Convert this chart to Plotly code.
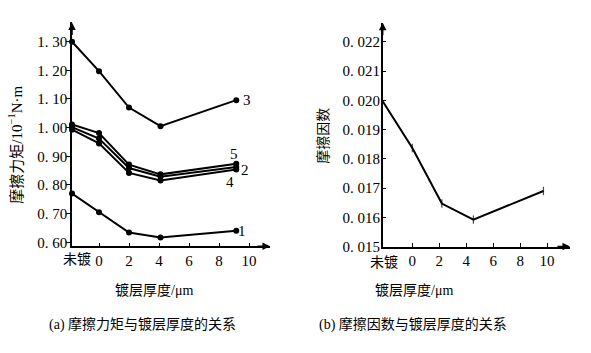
import plotly.graph_objects as go

# ---------------- data ----------------
x_a = [-1.8, 0, 2, 4.1, 9.15]          # 未镀, 0, 2, 4, ~9 μm
s1 = [0.770, 0.705, 0.634, 0.617, 0.640]
s2 = [1.002, 0.962, 0.859, 0.829, 0.863]
s3 = [1.300, 1.197, 1.070, 1.005, 1.096]
s4 = [0.993, 0.945, 0.842, 0.816, 0.854]
s5 = [1.011, 0.981, 0.871, 0.837, 0.874]
series_names = ["1", "2", "3", "4", "5"]

x_b = [-2.2, 0, 2.19, 4.53, 9.73]
mu = [0.01997, 0.01837, 0.01647, 0.01592, 0.0169]

xticks = [0, 2, 4, 6, 8, 10]
xtick_text = ["0", "2", "4", "6", "8", "10"]
untreated_label = "未镀"
ytick_a = [0.60, 0.70, 0.80, 0.90, 1.00, 1.10, 1.20, 1.30]
ytick_a_text = ["0. 60", "0. 70", "0. 80", "0. 90", "1. 00", "1. 10", "1. 20", "1. 30"]
ytick_b = [0.015, 0.016, 0.017, 0.018, 0.019, 0.020, 0.021, 0.022]
ytick_b_text = ["0. 015", "0. 016", "0. 017", "0. 018", "0. 019", "0. 020", "0. 021", "0. 022"]

ytitle_a = "摩擦力矩/10<sup>−1</sup>N·m"
ytitle_b = "摩擦因数"
xtitle = "镀层厚度/μm"
caption_a = "(a) 摩擦力矩与镀层厚度的关系"
caption_b = "(b) 摩擦因数与镀层厚度的关系"

# ---------------- styling ----------------
FONT = "Liberation Serif, Noto Sans CJK SC, serif"
CJK = "Noto Sans CJK SC, Liberation Serif, sans-serif"
W, H = 591, 353
XRA = [-1.8, 11.4]
YRA = [0.586, 1.367]
XRB = [-2.2, 11.7]
YRB = [0.015, 0.02265]

fig = go.Figure()
for name, ys in zip(series_names, [s1, s2, s3, s4, s5]):
    fig.add_trace(go.Scatter(x=x_a, y=ys, mode="lines+markers", name=name,
                             line=dict(color="black", width=2),
                             marker=dict(color="black", size=6, symbol="circle"),
                             cliponaxis=False, showlegend=False,
                             xaxis="x", yaxis="y"))

fig.add_trace(go.Scatter(x=x_b, y=mu, mode="lines+markers",
                         line=dict(color="black", width=2),
                         marker=dict(color="black", size=[0, 6, 6, 6, 6], symbol="line-ns",
                                     line=dict(color="black", width=1.2)),
                         cliponaxis=False, showlegend=False,
                         xaxis="x2", yaxis="y2"))

axis_common = dict(showline=True, linecolor="black", linewidth=1.5, showgrid=False,
                   zeroline=False, tickcolor="black", ticklen=4, tickwidth=1.2,
                   tickfont=dict(family=FONT, size=15, color="black"))

fig.update_layout(
    width=W, height=H, margin=dict(l=0, r=0, t=0, b=0),
    paper_bgcolor="white", plot_bgcolor="white",
    xaxis=dict(domain=[72 / W, 270 / W], range=XRA, tickvals=xticks, ticktext=xtick_text,
               ticks="inside", anchor="y", **axis_common),
    yaxis=dict(domain=[(H - 252) / H, (H - 23) / H], range=YRA, tickvals=ytick_a,
               ticktext=ytick_a_text, ticks="outside", anchor="x", ticklabelstandoff=-4,
               **axis_common),
    xaxis2=dict(domain=[382.7 / W, 570 / W], range=XRB, tickvals=xticks, ticktext=xtick_text,
                ticks="inside", anchor="y2", **axis_common),
    yaxis2=dict(domain=[(H - 252.3) / H, (H - 23.3) / H], range=YRB, tickvals=ytick_b,
                ticktext=ytick_b_text, ticks="inside", anchor="x2", ticklabelstandoff=-2,
                **axis_common),
)

ann = []
# axis arrows
for xr, yr, xa, ya in [("x", "y", XRA, YRA), ("x2", "y2", XRB, YRB)]:
    ann.append(dict(x=xa[1], y=ya[0], xref=xr, yref=yr, ax=-14, ay=0, showarrow=True,
                    arrowhead=2, arrowsize=1, arrowwidth=1.5, arrowcolor="black", text=""))
    ann.append(dict(x=xa[0], y=ya[1], xref=xr, yref=yr, ax=0, ay=14, showarrow=True,
                    arrowhead=2, arrowsize=1, arrowwidth=1.5, arrowcolor="black", text=""))

# series labels
label_pos = {"3": (9.87, 1.096), "5": (9.02, 0.909), "2": (9.73, 0.853),
             "4": (8.73, 0.812), "1": (9.55, 0.641)}
for name in series_names:
    lx, ly = label_pos[name]
    ann.append(dict(x=lx, y=ly, xref="x", yref="y", text=name, showarrow=False,
                    font=dict(family=FONT, size=15, color="black"), xanchor="center", yanchor="middle"))

# 未镀 tick labels
ann.append(dict(x=77 / W, y=(H - 264) / H, xref="paper", yref="paper", text=untreated_label,
                showarrow=False, font=dict(family=CJK, size=14, color="black"),
                xanchor="center", yanchor="middle"))
ann.append(dict(x=384 / W, y=(H - 267) / H, xref="paper", yref="paper", text=untreated_label,
                showarrow=False, font=dict(family=CJK, size=14, color="black"),
                xanchor="center", yanchor="middle"))

# axis titles
ann.append(dict(x=15 / W, y=(H - 148) / H, xref="paper", yref="paper", text=ytitle_a,
                textangle=-90, showarrow=False, font=dict(family=FONT, size=15, color="black"),
                xanchor="center", yanchor="middle"))
ann.append(dict(x=322 / W, y=(H - 139) / H, xref="paper", yref="paper", text=ytitle_b,
                textangle=-90, showarrow=False, font=dict(family=CJK, size=14, color="black"),
                xanchor="center", yanchor="middle"))
for cx in (154, 414):
    ann.append(dict(x=cx / W, y=(H - 297) / H, xref="paper", yref="paper", text=xtitle,
                    showarrow=False, font=dict(family=FONT, size=14, color="black"),
                    xanchor="center", yanchor="middle"))
for cx, txt in ((142, caption_a), (413, caption_b)):
    ann.append(dict(x=cx / W, y=(H - 332) / H, xref="paper", yref="paper", text=txt,
                    showarrow=False, font=dict(family=FONT, size=14, color="black"),
                    xanchor="center", yanchor="middle"))

fig.update_layout(annotations=ann)
fig.write_html("out.html")
